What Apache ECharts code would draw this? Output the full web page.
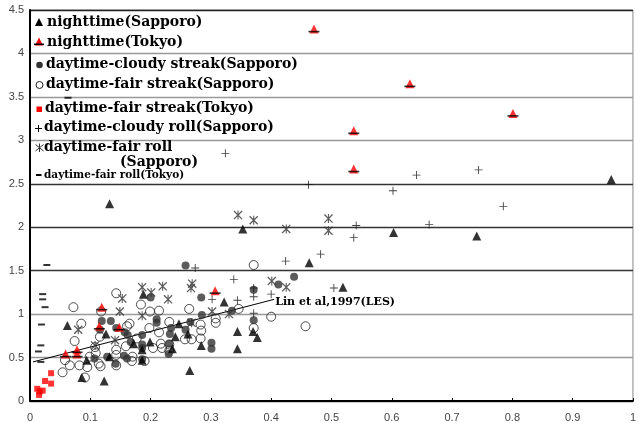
<!DOCTYPE html>
<html><head><meta charset="utf-8">
<script src="https://cdn.jsdelivr.net/npm/echarts@6/dist/echarts.min.js"></script>
<style>html,body{margin:0;padding:0;background:#fff}#c{width:639px;height:423px}</style>
</head><body><div id="c"></div>
<script>
// ---- data (x, y) ----
const nightSapporo = [[0.132,2.27],[0.353,1.98],[0.463,1.59],[0.519,1.31],[0.603,1.94],[0.741,1.90],[0.964,2.55],[0.062,0.87],[0.188,1.23],[0.126,0.77],[0.322,1.14],[0.344,0.80],[0.370,0.80],[0.377,0.73],[0.344,0.60],[0.284,0.64],[0.265,0.35],[0.262,0.77],[0.247,0.89],[0.241,0.74],[0.236,0.60],[0.199,0.68],[0.172,0.66],[0.186,0.59],[0.186,0.47],[0.094,0.47],[0.086,0.27],[0.123,0.23],[0.132,0.51]];
const nightTokyo = [[0.471,4.28],[0.630,3.65],[0.801,3.31],[0.537,3.11],[0.537,2.67],[0.307,1.27],[0.119,1.08],[0.115,0.86],[0.148,0.85],[0.078,0.59],[0.078,0.54],[0.059,0.54]];
const cloudyStreakSapporo = [[0.258,1.56],[0.284,1.19],[0.438,1.43],[0.412,1.34],[0.371,1.28],[0.335,1.04],[0.285,0.99],[0.301,0.67],[0.301,0.60],[0.371,0.93],[0.200,1.19],[0.210,0.94],[0.210,0.90],[0.234,0.84],[0.232,0.77],[0.231,0.66],[0.230,0.54],[0.258,0.82],[0.186,0.76],[0.186,0.65],[0.186,0.61],[0.186,0.48],[0.119,0.92],[0.134,0.92],[0.116,0.82],[0.143,0.84],[0.157,0.79],[0.162,0.76],[0.167,0.68],[0.156,0.52],[0.161,0.49],[0.142,0.43],[0.107,0.49],[0.128,0.51],[0.266,0.91]];
const fairStreakSapporo = [[0.371,1.565],[0.457,0.86],[0.400,0.97],[0.371,0.84],[0.346,1.06],[0.308,0.90],[0.308,0.95],[0.283,0.88],[0.284,0.81],[0.283,0.72],[0.264,1.06],[0.268,0.71],[0.257,0.71],[0.231,0.91],[0.214,1.04],[0.199,1.03],[0.184,1.11],[0.143,1.24],[0.198,0.84],[0.214,0.79],[0.217,0.66],[0.204,0.61],[0.219,0.61],[0.231,0.58],[0.177,0.72],[0.159,0.63],[0.143,0.59],[0.143,0.53],[0.143,0.41],[0.161,0.86],[0.165,0.89],[0.170,0.51],[0.169,0.46],[0.190,0.46],[0.099,0.51],[0.109,0.55],[0.114,0.43],[0.117,0.40],[0.095,0.39],[0.085,0.89],[0.072,1.08],[0.074,0.69],[0.058,0.47],[0.066,0.41],[0.082,0.41],[0.054,0.33],[0.091,0.27],[0.116,0.74],[0.108,0.62],[0.118,1.03],[0.231,0.65]];
const fairStreakTokyo = [[0.012,0.14],[0.021,0.12],[0.015,0.07],[0.016,0.11],[0.025,0.23],[0.035,0.32],[0.035,0.20]];
const cloudyRollSapporo = [[0.324,2.85],[0.641,2.60],[0.744,2.66],[0.602,2.42],[0.462,2.49],[0.785,2.24],[0.541,2.02],[0.662,2.03],[0.537,1.88],[0.482,1.69],[0.504,1.30],[0.274,1.53],[0.338,1.40],[0.424,1.61],[0.344,1.16],[0.302,1.17],[0.371,1.20],[0.371,1.30],[0.400,1.23],[0.371,1.01]];
const fairRollSapporo = [[0.345,2.14],[0.371,2.08],[0.425,1.98],[0.495,2.10],[0.495,1.96],[0.186,1.31],[0.201,1.25],[0.220,1.32],[0.153,1.18],[0.229,1.17],[0.269,1.35],[0.267,1.30],[0.149,1.03],[0.186,0.98],[0.302,1.03],[0.330,1.00],[0.268,0.90],[0.401,1.38],[0.425,1.31],[0.080,0.82],[0.108,0.64],[0.141,0.70]];
const fairRollTokyo = [[0.063,3.49],[0.028,1.565],[0.021,1.23],[0.021,1.17],[0.025,1.08],[0.019,0.88],[0.018,0.64],[0.014,0.57],[0.018,0.45]];
const linLine = [[0.005,0.45],[0.405,1.17]];
const linLabel = 'Lin et al,1997(LES)';
const legendNames = ['nighttime(Sapporo)','nighttime(Tokyo)','daytime-cloudy streak(Sapporo)','daytime-fair streak(Sapporo)','daytime-fair streak(Tokyo)','daytime-cloudy roll(Sapporo)','daytime-fair roll','(Sapporo)','daytime-fair roll(Tokyo)'];

// ---- styling ----
const PLUS = 'path://M4,0H5V4H9V5H5V9H4V5H0V4H4Z';
const AST = 'path://M4.4,0H5.6V10H4.4Z M0,1 L1,0 L10,9 L9,10Z M9,0 L10,1 L1,10 L0,9Z';
const serif = 'DejaVu Serif';

const chart = echarts.init(document.getElementById('c'), null, {renderer:'canvas'});
function sc(name, data, symbol, size, itemStyle, extra) {
  return Object.assign({type:'scatter', name, data, symbol, symbolSize:size, itemStyle, silent:true, z:3}, extra||{});
}
const lt = (x, y, text, size) => ({type:'text', x:x, y:y, z:10, style:{text, x:0, y:0, verticalAlign:'middle', align:'left', font:'bold '+size+'px "'+serif+'"', fill:'#000'}});
const ln = (x1,y1,x2,y2,c,w) => ({type:'line', z:10, shape:{x1,y1,x2,y2}, style:{stroke:c, lineWidth:w||1}});
const graphics = [
  lt(47,22,legendNames[0],14),
  lt(47,42,legendNames[1],14),
  lt(46,64,legendNames[2],14),
  lt(46,84,legendNames[3],14),
  lt(45,108,legendNames[4],14),
  lt(44,127,legendNames[5],14),
  lt(44,147,legendNames[6],14),
  lt(120,162,legendNames[7],14),
  lt(44,175,legendNames[8],10.5),
  {type:'polygon', z:10, shape:{points:[[39,18],[35,26],[43,26]]}, style:{fill:'#000'}},
  {type:'polygon', z:10, shape:{points:[[39,37.5],[35,45.5],[43,45.5]]}, style:{fill:'#f00'}},
  {type:'rect', z:10, shape:{x:34,y:43.5,width:10,height:1.6}, style:{fill:'#000'}},
  {type:'circle', z:10, shape:{cx:39.5,cy:65,r:3.3}, style:{fill:'#333'}},
  {type:'circle', z:10, shape:{cx:39.5,cy:85,r:3.5}, style:{fill:'none', stroke:'#222', lineWidth:1}},
  {type:'rect', z:10, shape:{x:36.5,y:106.5,width:5.5,height:5.5}, style:{fill:'#f00'}},
  ln(35,128.5,42,128.5,'#000'), ln(38.5,125,38.5,132,'#000'),
  ln(39.5,143.5,39.5,152,'#333'), ln(35.5,144.5,43.5,151,'#333'), ln(43.5,144.5,35.5,151,'#333'),
  {type:'rect', z:10, shape:{x:36,y:174,width:5.5,height:2}, style:{fill:'#000'}}
];

chart.setOption({
  animation:false,
  backgroundColor:'#fff',
  grid:{left:30, right:2, top:10, bottom:22, show:true, borderColor:'#888', borderWidth:1, backgroundColor:'#fff'},
  xAxis:{type:'value', min:0, max:1, interval:0.1,
    axisLine:{show:true, onZero:false, lineStyle:{color:'#000', width:2}},
    axisTick:{show:true, inside:true, length:3, lineStyle:{color:'#000'}},
    axisLabel:{color:'#444', fontSize:11, fontFamily:'Liberation Sans', margin:11},
    splitLine:{show:false}},
  yAxis:{type:'value', min:0, max:4.5, interval:0.5,
    axisLine:{show:true, lineStyle:{color:'#000', width:2}},
    axisTick:{show:false},
    axisLabel:{color:'#444', fontSize:11, fontFamily:'Liberation Sans', margin:6},
    splitLine:{show:true, lineStyle:{width:1.3, color:['#333','#999','#999','#333','#333','#333','#999','#999','#999','#222']}}},
  graphic: graphics,
  series:[
    sc('daytime-fair streak(Sapporo)', fairStreakSapporo, 'circle', 9, {color:'rgba(0,0,0,0)', borderColor:'#222', borderWidth:1}),
    sc('daytime-cloudy streak(Sapporo)', cloudyStreakSapporo, 'circle', 8, {color:'#333'}),
    sc('daytime-cloudy roll(Sapporo)', cloudyRollSapporo, PLUS, 8, {color:'#111'}),
    sc('daytime-fair roll(Sapporo)', fairRollSapporo, AST, 9, {color:'#333'}),
    sc('daytime-fair roll(Tokyo)', fairRollTokyo, 'rect', [7,2], {color:'#000'}),
    sc('daytime-fair streak(Tokyo)', fairStreakTokyo, 'rect', 6, {color:'#f00'}),
    sc('nighttime(Sapporo)', nightSapporo, 'triangle', 9, {color:'#000'}),
    sc('nighttime(Tokyo)', nightTokyo, 'triangle', 9, {color:'#f00'}),
    sc('nighttime(Tokyo) bar', nightTokyo, 'rect', [11,1.6], {color:'#000'}, {symbolOffset:[0,2.5], z:4}),
    {type:'line', name:'Lin', data:linLine, symbol:'none', silent:true, z:2,
     lineStyle:{color:'#000', width:1},
     endLabel:{show:true, formatter:linLabel, distance:1, offset:[0,3], color:'#000',
       fontFamily:serif, fontWeight:'bold', fontSize:11}}
  ]
});
</script></body></html>
